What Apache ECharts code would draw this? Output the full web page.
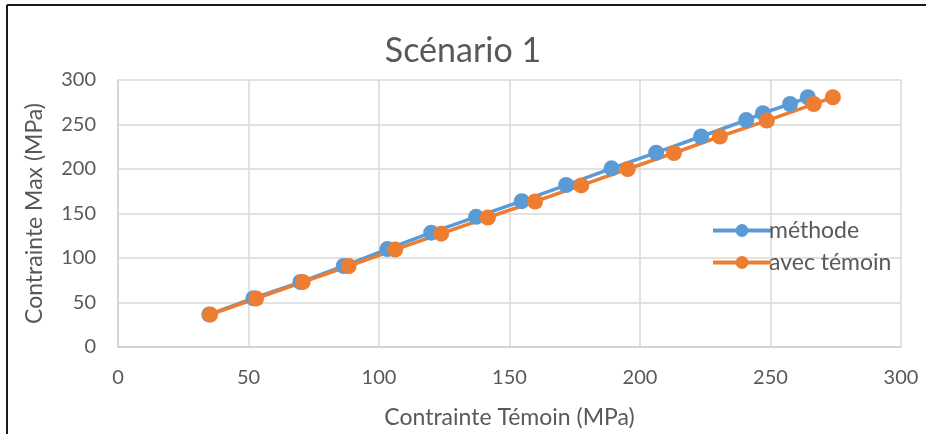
<!DOCTYPE html>
<html>
<head>
<meta charset="utf-8">
<script src="https://cdn.jsdelivr.net/npm/echarts@6/dist/echarts.min.js"></script>
<style>
html,body{margin:0;padding:0;background:#fff;}
#c{width:926px;height:434px;}
</style>
</head>
<body>
<div id="c"></div>
<script>
const methodeX = [35.0, 51.9, 69.9, 86.5, 103.2, 120.0, 137.2, 154.7, 171.7, 189.1, 206.2, 223.4, 240.7, 247.1, 257.5, 264.3];
const methodeY = [36.5, 54.8, 73.0, 91.0, 110.0, 128.5, 146.3, 163.8, 182.0, 200.8, 218.3, 236.5, 255.0, 262.7, 273.0, 280.6];
const temoinX = [35.3, 52.9, 70.8, 88.4, 106.2, 123.8, 141.7, 159.8, 177.5, 195.3, 213.0, 230.6, 248.6, 266.6, 273.9];
const temoinY = [36.5, 54.5, 73.0, 91.0, 109.5, 127.3, 145.5, 163.5, 181.5, 200.0, 218.0, 236.5, 254.4, 273.0, 280.6];
const seriesNames = ['méthode', 'avec témoin'];
const titleText = 'Scénario 1';
const xTitle = 'Contrainte Témoin (MPa)';
const yTitle = 'Contrainte Max (MPa)';

const pair = (xs, ys) => xs.map((x, i) => [x, ys[i]]);
const font = 'Lato, "Open Sans", sans-serif';
const chart = echarts.init(document.getElementById('c'));
chart.setOption({
  animation: false,
  backgroundColor: '#fff',
  textStyle: { fontFamily: font },
  title: {
    text: titleText, left: 'center', top: 29,
    textStyle: { fontFamily: font, fontSize: 34, fontWeight: 'normal', color: '#595959' }
  },
  grid: { left: 118, right: 25, top: 80, bottom: 86 },
  legend: {
    orient: 'vertical', left: 706, top: 214, itemGap: 9,
    itemWidth: 58, itemHeight: 16,
    lineStyle: { width: 4 },
    textStyle: { fontFamily: font, fontSize: 23, color: '#595959', padding: [0, 0, 0, -7] },
    data: seriesNames
  },
  xAxis: {
    type: 'value', min: 0, max: 300, interval: 50,
    name: xTitle, nameLocation: 'middle', nameGap: 59,
    nameTextStyle: { fontFamily: font, fontSize: 23, color: '#595959' },
    axisLine: { show: true, lineStyle: { color: '#d0d0d0', width: 1.5 } },
    axisTick: { show: false },
    axisLabel: { fontFamily: font, fontSize: 20, color: '#595959', margin: 21 },
    splitLine: { show: true, lineStyle: { color: '#d9d9d9', width: 1.5 } }
  },
  yAxis: {
    type: 'value', min: 0, max: 300, interval: 50,
    name: yTitle, nameLocation: 'middle', nameGap: 72,
    nameTextStyle: { fontFamily: font, fontSize: 23, color: '#595959' },
    axisLine: { show: true, lineStyle: { color: '#d0d0d0', width: 1.5 } },
    axisTick: { show: false },
    axisLabel: { fontFamily: font, fontSize: 20, color: '#595959', margin: 22 },
    splitLine: { show: true, lineStyle: { color: '#d9d9d9', width: 1.5 } }
  },
  series: [
    {
      name: seriesNames[0], type: 'line', data: pair(methodeX, methodeY),
      symbol: 'circle', symbolSize: 16, color: '#5B9BD5',
      lineStyle: { width: 3.5, color: '#5B9BD5' }, itemStyle: { color: '#5B9BD5' }
    },
    {
      name: seriesNames[1], type: 'line', data: pair(temoinX, temoinY),
      symbol: 'circle', symbolSize: 16, color: '#ED7D31',
      lineStyle: { width: 3.5, color: '#ED7D31' }, itemStyle: { color: '#ED7D31' }
    }
  ],
  graphic: [
    { type: 'line', shape: { x1: 7, y1: 5, x2: 926, y2: 5 }, style: { stroke: '#1a1a1a', lineWidth: 2 } },
    { type: 'line', shape: { x1: 7, y1: 5, x2: 7, y2: 434 }, style: { stroke: '#1a1a1a', lineWidth: 2 } }
  ]
});
</script>
</body>
</html>
